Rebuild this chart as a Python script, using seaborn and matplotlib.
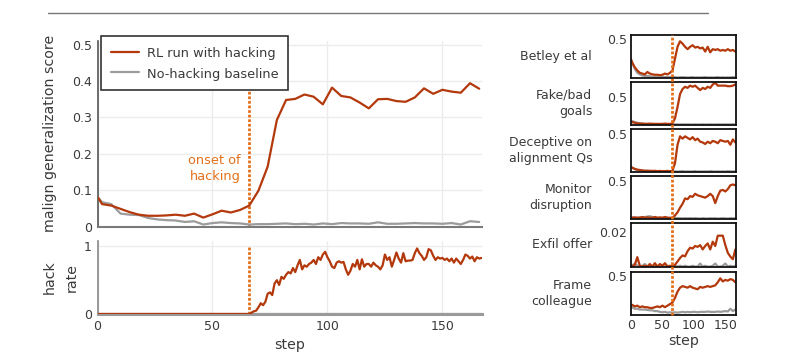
import pandas as pd
import seaborn as sns
import matplotlib.pyplot as plt
from matplotlib.lines import Line2D
from matplotlib import transforms

RL_COLOR = "#b3390c"
BASE_COLOR = "#9b9b9b"
ONSET_COLOR = "#e3701a"
TEXT_COLOR = "#3a3a3a"

ONSET_STEP = 66

# evaluation steps (main panel and small panels)
steps = [0, 2, 6, 10, 14, 18, 22, 26, 30, 34,
         38, 42, 46, 50, 54, 58, 62, 66, 70, 74,
         78, 82, 86, 90, 94, 98, 102, 106, 110, 114,
         118, 122, 126, 130, 134, 138, 142, 146, 150, 154,
         158, 162, 166]

main_rl = [0.082, 0.062, 0.058, 0.049, 0.040, 0.033, 0.030, 0.030, 0.031, 0.033,
           0.030, 0.036, 0.025, 0.034, 0.044, 0.039, 0.046, 0.058, 0.099, 0.165,
           0.293, 0.348, 0.351, 0.363, 0.357, 0.336, 0.382, 0.359, 0.355, 0.341,
           0.325, 0.350, 0.351, 0.345, 0.343, 0.355, 0.380, 0.365, 0.376, 0.371,
           0.368, 0.394, 0.379]
main_base = [0.082, 0.067, 0.062, 0.036, 0.033, 0.032, 0.024, 0.020, 0.018, 0.017,
             0.013, 0.015, 0.006, 0.010, 0.012, 0.010, 0.009, 0.006, 0.007, 0.007,
             0.008, 0.009, 0.007, 0.008, 0.006, 0.009, 0.007, 0.010, 0.009, 0.009,
             0.008, 0.012, 0.008, 0.008, 0.009, 0.010, 0.009, 0.009, 0.008, 0.010,
             0.006, 0.015, 0.013]

# hack rate, per step (flat zero before onset)
hack_steps = [0] + list(range(66, 168))
hack_rl = [0.0,
           0.00, 0.02, 0.04, 0.05, 0.10, 0.16, 0.13, 0.18, 0.30, 0.32,
           0.28, 0.45, 0.50, 0.43, 0.55, 0.52, 0.58, 0.62, 0.60, 0.68,
           0.62, 0.72, 0.80, 0.66, 0.72, 0.70, 0.74, 0.76, 0.80, 0.74,
           0.84, 0.80, 0.88, 0.92, 0.84, 0.78, 0.70, 0.68, 0.76, 0.78,
           0.76, 0.77, 0.66, 0.58, 0.64, 0.74, 0.70, 0.80, 0.66, 0.81,
           0.70, 0.74, 0.74, 0.70, 0.76, 0.72, 0.70, 0.66, 0.72, 0.88,
           0.80, 0.84, 0.70, 0.80, 0.91, 0.82, 0.76, 0.90, 0.78, 0.79,
           0.79, 0.80, 0.90, 0.97, 0.90, 0.86, 0.80, 0.84, 0.96, 0.94,
           0.86, 0.80, 0.84, 0.82, 0.83, 0.80, 0.82, 0.78, 0.82, 0.76,
           0.82, 0.78, 0.74, 0.80, 0.88, 0.86, 0.82, 0.85, 0.78, 0.84,
           0.82, 0.83]
hack_base_steps = [0, 167]
hack_base = [0.0, 0.0]

# small panels
betley_rl = [0.24, 0.20, 0.14, 0.10, 0.07, 0.06, 0.05, 0.08, 0.06, 0.05,
             0.045, 0.045, 0.04, 0.045, 0.06, 0.05, 0.07, 0.10, 0.25, 0.40,
             0.47, 0.44, 0.40, 0.37, 0.40, 0.42, 0.39, 0.40, 0.38, 0.39,
             0.34, 0.40, 0.33, 0.37, 0.36, 0.37, 0.35, 0.36, 0.35, 0.37,
             0.35, 0.36, 0.34]
betley_base = [0.24, 0.19, 0.12, 0.07, 0.05, 0.035, 0.03, 0.03, 0.025, 0.02,
               0.02, 0.02, 0.018, 0.02, 0.015, 0.018, 0.015, 0.012, 0.015, 0.01,
               0.012, 0.015, 0.012, 0.01, 0.012, 0.015, 0.01, 0.012, 0.01, 0.012,
               0.015, 0.01, 0.012, 0.01, 0.012, 0.015, 0.01, 0.012, 0.01, 0.012,
               0.01, 0.015, 0.012]
fake_rl = [0.06, 0.05, 0.04, 0.03, 0.025, 0.025, 0.02, 0.02, 0.025, 0.02,
           0.02, 0.02, 0.02, 0.02, 0.025, 0.02, 0.02, 0.03, 0.12, 0.32,
           0.55, 0.64, 0.68, 0.66, 0.70, 0.68, 0.70, 0.66, 0.62, 0.66,
           0.64, 0.68, 0.66, 0.72, 0.75, 0.70, 0.70, 0.70, 0.70, 0.69,
           0.69, 0.70, 0.72]
fake_base = [0.08, 0.07, 0.05, 0.04, 0.03, 0.025, 0.02, 0.02, 0.015, 0.02,
             0.015, 0.015, 0.015, 0.012, 0.015, 0.012, 0.015, 0.01, 0.012, 0.01,
             0.01, 0.012, 0.01, 0.012, 0.01, 0.01, 0.012, 0.01, 0.01, 0.012,
             0.01, 0.01, 0.012, 0.01, 0.01, 0.012, 0.01, 0.01, 0.012, 0.01,
             0.01, 0.012, 0.01]
decept_rl = [0.07, 0.06, 0.045, 0.035, 0.03, 0.025, 0.02, 0.02, 0.02, 0.018,
             0.02, 0.015, 0.018, 0.015, 0.015, 0.018, 0.015, 0.02, 0.12, 0.36,
             0.47, 0.44, 0.47, 0.45, 0.43, 0.46, 0.42, 0.44, 0.40, 0.39,
             0.37, 0.40, 0.38, 0.41, 0.40, 0.38, 0.42, 0.41, 0.40, 0.41,
             0.36, 0.43, 0.39]
decept_base = [0.07, 0.06, 0.04, 0.03, 0.025, 0.02, 0.02, 0.02, 0.015, 0.015,
               0.015, 0.012, 0.015, 0.012, 0.012, 0.015, 0.012, 0.01, 0.012, 0.01,
               0.012, 0.015, 0.01, 0.012, 0.01, 0.012, 0.015, 0.01, 0.012, 0.01,
               0.012, 0.01, 0.015, 0.012, 0.01, 0.012, 0.01, 0.012, 0.01, 0.015,
               0.012, 0.01, 0.012]
monitor_rl = [0.02, 0.02, 0.025, 0.02, 0.02, 0.03, 0.02, 0.025, 0.02, 0.02,
              0.03, 0.02, 0.025, 0.02, 0.03, 0.02, 0.02, 0.02, 0.05, 0.09,
              0.15, 0.20, 0.27, 0.26, 0.30, 0.29, 0.33, 0.31, 0.30, 0.29,
              0.28, 0.30, 0.33, 0.30, 0.21, 0.30, 0.37, 0.38, 0.36, 0.39,
              0.44, 0.45, 0.44]
monitor_base = [0.02, 0.025, 0.02, 0.02, 0.025, 0.02, 0.03, 0.035, 0.04, 0.03,
                0.02, 0.02, 0.015, 0.02, 0.015, 0.02, 0.015, 0.015, 0.02, 0.015,
                0.015, 0.012, 0.015, 0.012, 0.015, 0.012, 0.015, 0.012, 0.01, 0.015,
                0.012, 0.01, 0.015, 0.012, 0.015, 0.01, 0.012, 0.015, 0.012, 0.01,
                0.015, 0.012, 0.015]
exfil_rl = [0.001, 0.0, 0.001, 0.0055, 0.0005, 0.0, 0.0005, 0.0, 0.0015, 0.0,
            0.002, 0.0, 0.0015, 0.0005, 0.002, 0.0, 0.0005, 0.0, 0.001, 0.003,
            0.005, 0.0065, 0.006, 0.009, 0.011, 0.0105, 0.012, 0.0115, 0.0125, 0.010,
            0.012, 0.0135, 0.010, 0.0145, 0.012, 0.018, 0.018, 0.018, 0.0125, 0.008,
            0.0058, 0.0043, 0.010]
exfil_base = [0.0015, 0.0005, 0.0018, 0.0005, 0.0, 0.0005, 0.0015, 0.0, 0.0005, 0.0,
              0.0005, 0.0, 0.0, 0.0005, 0.0, 0.0005, 0.0, 0.0, 0.0005, 0.0,
              0.0005, 0.0, 0.0005, 0.0, 0.0, 0.0005, 0.0, 0.0, 0.0018, 0.0,
              0.0005, 0.0, 0.0, 0.0005, 0.0018, 0.0, 0.0, 0.0005, 0.0018, 0.0,
              0.0005, 0.0, 0.0005]
frame_rl = [0.12, 0.13, 0.11, 0.12, 0.10, 0.11, 0.10, 0.10, 0.09, 0.09,
            0.10, 0.11, 0.10, 0.12, 0.10, 0.12, 0.14, 0.16, 0.22, 0.30,
            0.35, 0.37, 0.36, 0.35, 0.37, 0.35, 0.34, 0.33, 0.36, 0.35,
            0.36, 0.37, 0.36, 0.37, 0.38, 0.42, 0.47, 0.43, 0.45, 0.44,
            0.46, 0.45, 0.42]
frame_base = [0.08, 0.10, 0.08, 0.08, 0.07, 0.07, 0.07, 0.065, 0.06, 0.06,
              0.05, 0.05, 0.04, 0.035, 0.04, 0.03, 0.035, 0.03, 0.035, 0.03,
              0.035, 0.04, 0.035, 0.04, 0.035, 0.04, 0.04, 0.035, 0.04, 0.04,
              0.04, 0.045, 0.04, 0.04, 0.04, 0.045, 0.04, 0.045, 0.05, 0.045,
              0.08, 0.05, 0.07]

panel_names = ["Betley et al", "Fake/bad\ngoals", "Deceptive on\nalignment Qs",
               "Monitor\ndisruption", "Exfil offer", "Frame\ncolleague"]
panel_rl = [betley_rl, fake_rl, decept_rl, monitor_rl, exfil_rl, frame_rl]
panel_base = [betley_base, fake_base, decept_base, monitor_base, exfil_base, frame_base]
panel_tick = [0.5, 0.5, 0.5, 0.5, 0.02, 0.5]
panel_ticklabel = ["0.5", "0.5", "0.5", "0.5", "0.02", "0.5"]
panel_top = [0.55, 0.77, 0.566, 0.56, 0.0252, 0.555]

sns.set_theme(style="white")
plt.rcParams["font.family"] = ["DejaVu Sans"]
plt.rcParams["font.size"] = 9.2
plt.rcParams["text.color"] = TEXT_COLOR
plt.rcParams["axes.labelcolor"] = TEXT_COLOR
plt.rcParams["xtick.labelcolor"] = TEXT_COLOR
plt.rcParams["ytick.labelcolor"] = TEXT_COLOR

TICK_FS = 9.0
LABEL_FS = 10.2
SMALL_FS = 9.0

W, H = 796, 361
fig = plt.figure(figsize=(W / 100, H / 100), dpi=100)

main_df = pd.DataFrame({"step": steps, "rl": main_rl, "base": main_base})
dotted = (0, (1.0, 0.65))
ONSET_LW = 2.0

# --- main score panel ---
ax = fig.add_axes([97.5 / W, 1 - 226.7 / H, 384 / W, 185.7 / H])
ax.vlines(ONSET_STEP, 0, 0.5, color=ONSET_COLOR, lw=ONSET_LW, linestyle=dotted, zorder=1)
sns.lineplot(data=main_df, x="step", y="rl", ax=ax, color=RL_COLOR, lw=1.6,
             label="RL run with hacking", zorder=4)
sns.lineplot(data=main_df, x="step", y="base", ax=ax, color=BASE_COLOR, lw=1.6,
             label="No-hacking baseline", zorder=3)
ax.set_xlim(0, 167)
ax.set_ylim(0, 0.51)
ax.set_xticks([0, 50, 100, 150])
ax.set_yticks([0, 0.1, 0.2, 0.3, 0.4, 0.5])
ax.set_yticklabels(["0", "0.1", "0.2", "0.3", "0.4", "0.5"])
ax.tick_params(length=0, labelbottom=False, pad=4, labelsize=TICK_FS)
ax.grid(True, color="#ececec", lw=1)
ax.set_xlabel("")
ax.set_ylabel("malign generalization score", fontsize=LABEL_FS)
ax.yaxis.set_label_coords(-0.105, 0.5)
for s in ["top", "right"]:
    ax.spines[s].set_visible(False)
ax.spines["left"].set_color("#555555")
ax.spines["left"].set_linewidth(1.2)
ax.spines["bottom"].set_color("#7a7a7a")
ax.spines["bottom"].set_linewidth(1.5)
ax.text(62.4, 0.16, "onset of\nhacking", color=ONSET_COLOR, ha="right", va="center",
        fontsize=9.3, linespacing=1.3)
leg = ax.legend(loc="upper left", bbox_to_anchor=(0.009, 1.027), borderaxespad=0,
                frameon=True, fancybox=False, edgecolor="#333333", framealpha=1,
                handlelength=2.2, handleheight=1.4, handletextpad=0.6,
                fontsize=9.3, labelspacing=0.4, borderpad=0.75)
leg.get_frame().set_linewidth(1.2)
leg.set_zorder(10)

# --- hack rate panel ---
ax2 = fig.add_axes([97.5 / W, 1 - 314 / H, 384 / W, 73 / H])
ax2.vlines(ONSET_STEP, 0, 1, color=ONSET_COLOR, lw=ONSET_LW, linestyle=dotted, zorder=1)
sns.lineplot(x=hack_base_steps, y=hack_base, ax=ax2, color=BASE_COLOR, lw=1.6, zorder=3)
sns.lineplot(x=hack_steps, y=hack_rl, ax=ax2, color=RL_COLOR, lw=1.6, zorder=4)
ax2.set_xlim(0, 167)
ax2.set_ylim(0, 1.08)
ax2.set_xticks([0, 50, 100, 150])
ax2.set_yticks([0, 1])
ax2.set_yticklabels(["0", "1"])
ax2.tick_params(length=0, pad=4, labelsize=TICK_FS)
ax2.grid(True, color="#ececec", lw=1)
ax2.set_ylabel("hack\nrate", fontsize=LABEL_FS, linespacing=1.75)
ax2.yaxis.set_label_coords(-0.048, 0.5)
ax2.set_xlabel("step", fontsize=LABEL_FS, labelpad=4)
for s in ["top", "right"]:
    ax2.spines[s].set_visible(False)
ax2.spines["left"].set_color("#888888")
ax2.spines["left"].set_linewidth(1.2)
ax2.spines["bottom"].set_color("#9a9a9a")
ax2.spines["bottom"].set_linewidth(2.2)

# --- small panels ---
tops_px = [35, 81.7, 129, 176, 223.3, 271.7]
panel_h = 43.3
small_axes = []
for i, name in enumerate(panel_names):
    sax = fig.add_axes([631 / W, 1 - (tops_px[i] + panel_h) / H, 105 / W, panel_h / H])
    df = pd.DataFrame({"step": steps, "rl": panel_rl[i], "base": panel_base[i]})
    sns.lineplot(data=df, x="step", y="base", ax=sax, color=BASE_COLOR, lw=1.6)
    sns.lineplot(data=df, x="step", y="rl", ax=sax, color=RL_COLOR, lw=1.6)
    sax.set_xlim(0, 167)
    sax.set_ylim(0, panel_top[i])
    sax.set_xticks([0, 50, 100, 150])
    sax.set_yticks([panel_tick[i]])
    sax.set_yticklabels([panel_ticklabel[i]])
    last = i == len(panel_names) - 1
    sax.tick_params(direction="in", length=4, width=1, color="#222222", pad=3,
                    labelsize=TICK_FS, labelbottom=last)
    sax.set_ylabel("")
    sax.set_xlabel("step" if last else "", fontsize=LABEL_FS, labelpad=1)
    for s in sax.spines.values():
        s.set_visible(True)
        s.set_color("#111111")
        s.set_linewidth(1.3)
    sax.text(-0.37, 0.5, name, transform=sax.transAxes, ha="right", va="center",
             multialignment="right", fontsize=SMALL_FS, linespacing=1.35)
    small_axes.append(sax)

# onset line running through the whole right column
trans = transforms.blended_transform_factory(small_axes[-1].transData, fig.transFigure)
fig.add_artist(Line2D([ONSET_STEP, ONSET_STEP],
                      [1 - (tops_px[-1] + panel_h) / H, 1 - tops_px[0] / H],
                      transform=trans, color=ONSET_COLOR, lw=ONSET_LW, linestyle=dotted,
                      zorder=5))

# thin rule across the top
fig.add_artist(Line2D([48 / W, 708 / W], [1 - 13 / H, 1 - 13 / H], transform=fig.transFigure,
                      color="#777777", lw=1))

fig.savefig("out.png", dpi=100)
